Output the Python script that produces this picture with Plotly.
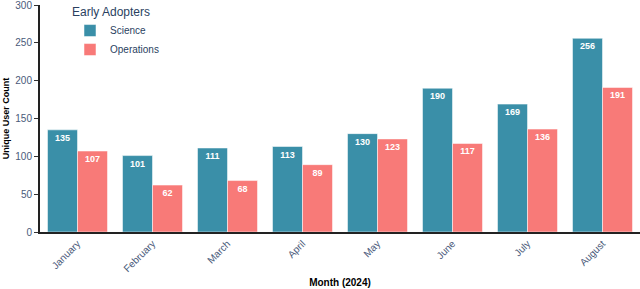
import plotly.graph_objects as go

months = ["January", "February", "March", "April", "May", "June", "July", "August"]
science = [135, 101, 111, 113, 130, 190, 169, 256]
operations = [107, 62, 68, 89, 123, 117, 136, 191]
y_ticks = [0, 50, 100, 150, 200, 250, 300]

fig = go.Figure()
for name, vals, color in [("Science", science, "#3A8FA8"), ("Operations", operations, "#F87A78")]:
    fig.add_trace(go.Bar(
        x=months, y=vals, name=name, marker=dict(color=color, line=dict(color="rgba(255,255,255,0.5)", width=1)),
        text=vals, texttemplate="<b>%{text}</b>", textposition="inside", insidetextanchor="end",
        textfont=dict(color="white", size=9, family="Arial, Liberation Sans"),
    ))

fig.update_layout(
    width=640, height=289, barmode="group", bargap=0.2, bargroupgap=0,
    plot_bgcolor="white", paper_bgcolor="white",
    margin=dict(l=40, r=0, t=5, b=57),
    font=dict(family="Arial, Liberation Sans", color="#2a3f5f"),
    legend=dict(title=dict(text="Early Adopters", font=dict(size=12)), font=dict(size=10),
                x=0.05, y=1.02, xanchor="left", yanchor="top", bgcolor="rgba(0,0,0,0)",
                itemwidth=30, tracegroupgap=0),
    showlegend=True,
)
fig.update_yaxes(range=[0, 300], tickvals=y_ticks, ticks="outside", ticklen=4, tickcolor="#333",
                 showline=True, linecolor="#222", linewidth=2, showgrid=False, zeroline=False,
                 ticklabeloverflow="allow",
                 tickfont=dict(size=10, color="#4a5a7a"),
                 title=dict(text="<b>Unique User Count</b>", font=dict(size=9, color="black"), standoff=4))
fig.update_xaxes(tickangle=-45, showline=True, linecolor="#222", linewidth=2, showgrid=False,
                 tickfont=dict(size=10, color="#4a5a7a"),
                 title=dict(text="<b>Month (2024)</b>", font=dict(size=10, color="black"), standoff=6))
fig.write_html("out.html", config={"displayModeBar": False},
               post_script="document.body.style.margin='0';")
